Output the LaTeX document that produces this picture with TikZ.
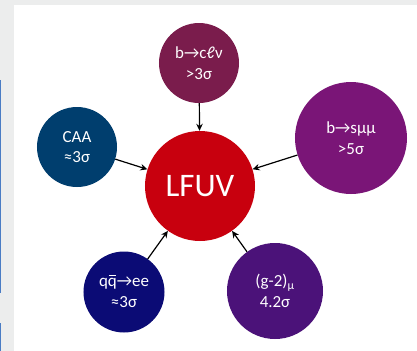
\documentclass[tikz,border=0pt]{standalone}
\usepackage{fontspec}
\setmainfont{Carlito}
\usetikzlibrary{arrows.meta}
\definecolor{bgray}{HTML}{ECEDED}
\definecolor{edgeblue}{HTML}{4A7CC4}
\definecolor{cTop}{HTML}{7A1C4C}
\definecolor{cCAA}{HTML}{003E6E}
\definecolor{cBsmm}{HTML}{7A1577}
\definecolor{cLFUV}{HTML}{C8000E}
\definecolor{cQQ}{HTML}{0B0B75}
\definecolor{cG}{HTML}{4B1279}
\newcommand{\qbar}{\ooalign{q\cr\hidewidth\rule[0.62em]{0.42em}{0.06em}\hidewidth\cr}}
\tikzset{
  bubble/.style={circle, inner sep=0pt, text=white, align=center, font=\fontsize{17}{20.5}\selectfont},
  feed/.style={-{Stealth[length=7bp,width=6.5bp]}, line width=1.2bp, black}
}
\begin{document}
\begin{tikzpicture}[x=1bp,y=-1bp]
\useasboundingbox (0,0) rectangle (417,351);
\fill[bgray] (0,0) rectangle (417,351);
\fill[white] (14,5) rectangle (417,351);
\fill[edgeblue] (0,80) rectangle (1.3,293);
\fill[edgeblue] (0,323) rectangle (1.3,351);
\node[bubble, fill=cLFUV, minimum size=110bp, font=\fontsize{33}{36}\selectfont] (lfuv) at (200,186) {LFUV};
\node[bubble, fill=cTop, minimum size=80bp] (top) at (199,63) {b→cℓν\\>3σ};
\node[bubble, fill=cCAA, minimum size=80bp] (caa) at (77,147) {CAA\\≈3σ};
\node[bubble, fill=cBsmm, minimum size=112bp] (bsmm) at (351,138) {b→sμμ\\>5σ};
\node[bubble, fill=cQQ, minimum size=81bp] (qq) at (124,292) {q\qbar→ee\\≈3σ};
\node[bubble, fill=cG, minimum size=96bp] (g2) at (275,291) {(g-2)\textsubscript{μ}\\4.2σ};
\draw[feed] (top) -- (lfuv);
\draw[feed] (caa) -- (lfuv);
\draw[feed] (bsmm) -- (lfuv);
\draw[feed] (qq) -- (lfuv);
\draw[feed] (g2) -- (lfuv);
\end{tikzpicture}
\end{document}
